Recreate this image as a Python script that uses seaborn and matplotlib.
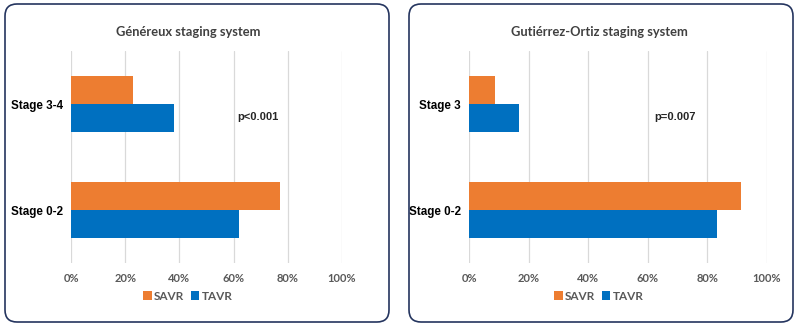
import pandas as pd
import matplotlib.pyplot as plt
import seaborn as sns
from matplotlib.patches import FancyBboxPatch, Patch
from matplotlib.ticker import PercentFormatter

# data (percent of patients)
stages_gen = ['Stage 3-4', 'Stage 0-2']
savr_gen = [23, 77]
tavr_gen = [38, 62]

stages_gut = ['Stage 3', 'Stage 0-2']
savr_gut = [8.8, 91.2]
tavr_gut = [16.7, 83.3]

groups = ['SAVR', 'TAVR']
colors = {'SAVR': '#ED7D31', 'TAVR': '#0070C0'}

titles = ['Généreux staging system', 'Gutiérrez-Ortiz staging system']
pvals = ['p<0.001', 'p=0.007']


def make_df(stages, savr, tavr):
    return pd.DataFrame({
        'Stage': stages * 2,
        'Group': ['SAVR'] * len(stages) + ['TAVR'] * len(stages),
        'Pct': savr + tavr,
    })


sns.set_theme(style='white')
plt.rcParams['font.family'] = ['Lato', 'DejaVu Sans']

fig = plt.figure(figsize=(7.96, 3.26), dpi=100)

# rounded panel frames, in inches
for x0 in [0.05, 4.09]:
    box = FancyBboxPatch((x0 + 0.12, 0.16), 3.84 - 0.24, 3.18 - 0.24,
                         boxstyle='round,pad=0.12', transform=fig.dpi_scale_trans,
                         facecolor='none', edgecolor='#25355f', linewidth=1.2,
                         zorder=5)
    fig.patches.append(box)

ax_pos = [
    [71 / 796, 1 - 263 / 326, 271 / 796, 212 / 326],
    [469 / 796, 1 - 263 / 326, 298 / 796, 212 / 326],
]
box_centers = [188 / 796, 599 / 796]

data = [make_df(stages_gen, savr_gen, tavr_gen), make_df(stages_gut, savr_gut, tavr_gut)]

for i, df in enumerate(data):
    ax = fig.add_axes(ax_pos[i])
    ax.patch.set_alpha(0)
    sns.barplot(data=df, x='Pct', y='Stage', hue='Group', hue_order=groups,
                palette=colors, orient='h', width=0.52, ax=ax, legend=False,
                saturation=1, edgecolor='none')
    ax.set_xlim(0, 100)
    ax.set_ylim(1.5, -0.5)
    ax.set_xticks([0, 20, 40, 60, 80, 100])
    ax.xaxis.set_major_formatter(PercentFormatter(decimals=0))
    ax.grid(axis='x', color='#d9d9d9', linewidth=0.9)
    ax.set_axisbelow(True)
    for s in ax.spines.values():
        s.set_visible(False)
    ax.set_xlabel('')
    ax.set_ylabel('')
    ax.tick_params(axis='x', length=0, pad=7, labelsize=8, labelcolor='#595959')
    ax.tick_params(axis='y', length=0, pad=6)
    for lab in ax.get_xticklabels():
        lab.set_fontweight('bold')
    for lab in ax.get_yticklabels():
        lab.set_fontfamily(['Liberation Sans', 'DejaVu Sans'])
        lab.set_fontweight('bold')
        lab.set_fontsize(8.4)
        lab.set_color('black')
    ax.text(69, 0.12, pvals[i], ha='center', va='center', fontsize=8,
            fontweight='bold', family=['Liberation Sans', 'DejaVu Sans'])

    fig.text(box_centers[i], 1 - 32 / 326, titles[i], ha='center',
             va='center', fontsize=9.3, fontweight='bold', color='#404040')

    handles = [Patch(facecolor=colors[g], edgecolor='none', label=g) for g in groups]
    fig.legend(handles=handles, loc='center', ncol=2, frameon=False,
               bbox_to_anchor=(box_centers[i], 1 - 296 / 326),
               handlelength=0.7, handleheight=0.7, handletextpad=0.2,
               columnspacing=0.6, prop={'weight': 'bold', 'size': 8.5},
               labelcolor='#595959')

fig.savefig('out.png', dpi=100)
